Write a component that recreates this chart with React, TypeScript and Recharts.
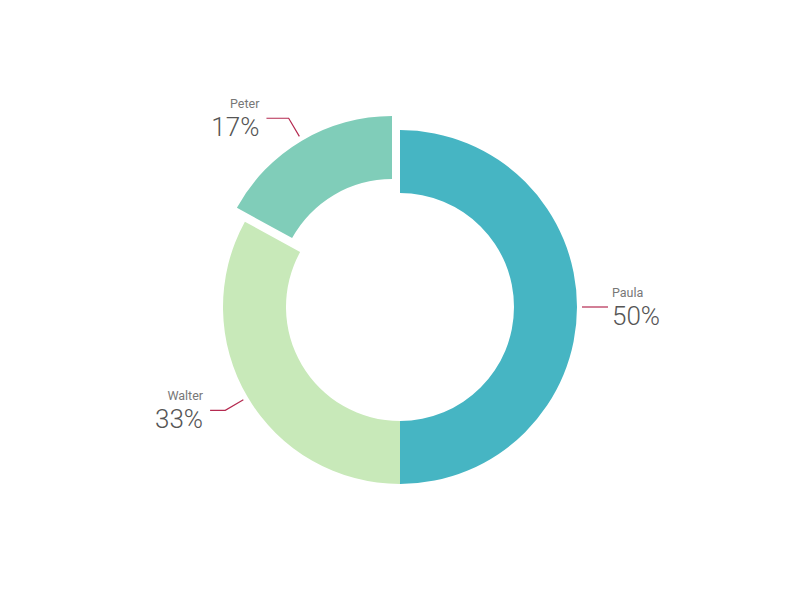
import { PieChart, Pie, Cell } from 'recharts';

const names = ['Paula', 'Walter', 'Peter'];
const values = [50, 33, 17];
const colors = ['#46b5c3', '#c8e9b9', '#80cdb9'];
const explodedIndex = 2;

const data = names.map((name, i) => ({ name, value: values[i] }));

const RADIAN = Math.PI / 180;

function makeLabel(showExploded: boolean) {
  return (props: any) => {
    const { cx, cy, midAngle, outerRadius, percent, name, index } = props;
    if ((index === explodedIndex) !== showExploded) return null;
    const cos = Math.cos(-midAngle * RADIAN);
    const sin = Math.sin(-midAngle * RADIAN);
    const sx = cx + (outerRadius + 5) * cos;
    const sy = cy + (outerRadius + 5) * sin;
    const mx = cx + (outerRadius + 26) * cos;
    const my = cy + (outerRadius + 26) * sin;
    const right = cos >= 0;
    const len = 5 + 20 * Math.abs(sin);
    const ex = mx + (right ? len : -len);
    const tx = ex + (right ? 4 : -7);
    const anchor = right ? 'start' : 'end';
    return (
      <g>
        <polyline
          points={`${sx},${sy} ${mx},${my} ${ex},${my}`}
          fill="none"
          stroke="#b52a50"
          strokeWidth={1.2}
        />
        <text x={tx} y={my - 10} textAnchor={anchor} fontSize={12.5} fill="#777" fontFamily="Roboto">
          {name}
        </text>
        <text x={tx} y={my + 18} textAnchor={anchor} fontSize={26} fontWeight={300} fill="#555" fontFamily="Roboto">
          {`${Math.round(percent * 100)}%`}
        </text>
      </g>
    );
  };
}

export default function App() {
  return (
    <div style={{ margin: -8, width: 800, height: 600, background: '#fff' }}>
      <PieChart width={800} height={600} margin={{ top: 0, right: 0, bottom: 0, left: 0 }}>
        <Pie
          data={data}
          dataKey="value"
          nameKey="name"
          cx={400}
          cy={307}
          innerRadius={114}
          outerRadius={177}
          startAngle={90}
          endAngle={-270}
          stroke="none"
          label={makeLabel(false)}
          labelLine={false}
          isAnimationActive={false}
        >
          {data.map((d, i) => (
            <Cell key={d.name} fill={i === explodedIndex ? 'none' : colors[i]} />
          ))}
        </Pie>
        <Pie
          data={data}
          dataKey="value"
          nameKey="name"
          cx={392}
          cy={293}
          innerRadius={114}
          outerRadius={177}
          startAngle={90}
          endAngle={-270}
          stroke="none"
          label={makeLabel(true)}
          labelLine={false}
          isAnimationActive={false}
        >
          {data.map((d, i) => (
            <Cell key={d.name} fill={i === explodedIndex ? colors[i] : 'none'} />
          ))}
        </Pie>
      </PieChart>
    </div>
  );
}
